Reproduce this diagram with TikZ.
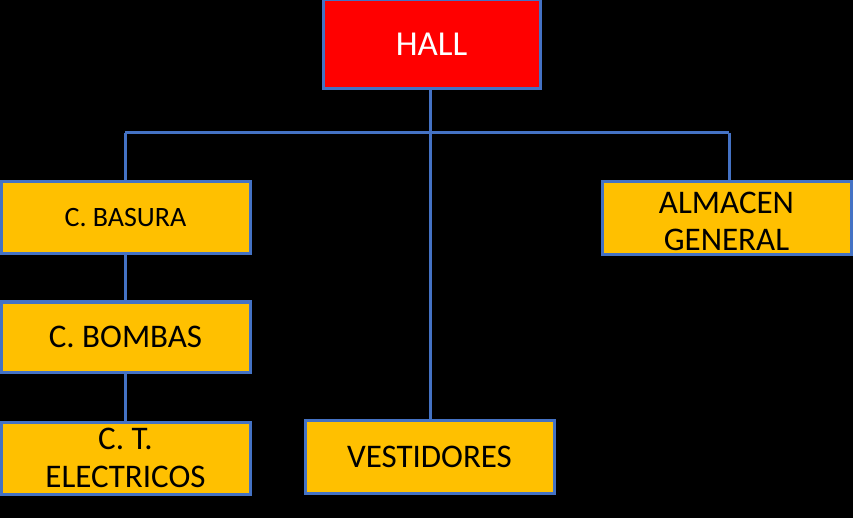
\documentclass[tikz,border=0pt]{standalone}
\usepackage{fontspec}
\setmainfont{Carlito}
\definecolor{boxblue}{HTML}{4472C4}
\definecolor{boxyellow}{HTML}{FFC000}
\definecolor{boxred}{HTML}{FF0000}
\begin{document}
\begin{tikzpicture}[x=1pt,y=1pt,
  box/.style={draw=boxblue,line width=3pt,fill=boxyellow,text=black,align=center,inner sep=0pt,
    minimum width=249pt,font=\fontsize{33}{39.5}\selectfont},
  link/.style={draw=boxblue,line width=3pt}]
\fill[black] (0,0) rectangle (853,-518);
\useasboundingbox (0,0) rectangle (853,-518);
\node[box,fill=boxred,text=white,minimum width=217pt,minimum height=89pt,font=\fontsize{35}{41}\selectfont] (hall) at (431.5,-44.5) {HALL};
\node[box,minimum height=72pt,font=\fontsize{28}{34}\selectfont] (basura) at (125.5,-218) {C. BASURA};
\node[box,minimum height=70pt] (bombas) at (125.5,-337) {C. BOMBAS};
\node[box,minimum height=72pt] (ct) at (125.5,-458) {C. T.\\[-1pt]ELECTRICOS};
\node[box,minimum height=73pt] (vest) at (429.5,-456.5) {VESTIDORES};
\node[box,minimum height=73pt] (alm) at (726.5,-218.5) {\strut ALMACEN\\[-3pt]GENERAL};
\coordinate (busL) at (125,-133);
\coordinate (busR) at (729,-133);
\coordinate (busM) at (430,-133);
\draw[link] (busL) -- (busR);
\draw[link] (hall.south -| busM) -- (vest.north -| busM);
\draw[link] (busL) -- (basura.north -| busL);
\draw[link] (busR) -- (alm.north -| busR);
\draw[link] (basura.south -| busL) -- (bombas.north -| busL);
\draw[link] (bombas.south -| busL) -- (ct.north -| busL);
\end{tikzpicture}
\end{document}
